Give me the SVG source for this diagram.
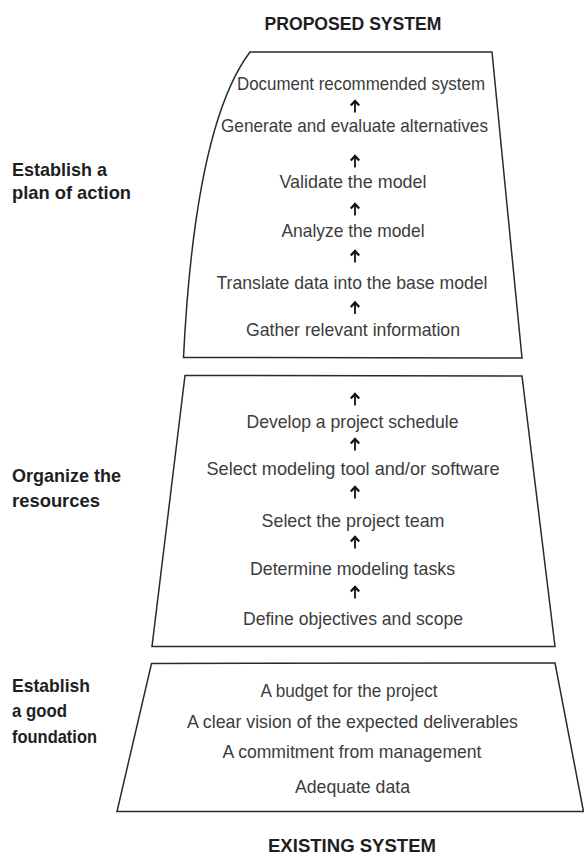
<svg xmlns="http://www.w3.org/2000/svg" width="584" height="857" viewBox="0 0 584 857">
<style>
.box{fill:#fff;stroke:#2a2a2a;stroke-width:1.5;stroke-linejoin:miter}
.t{font-family:"Liberation Sans",Arial,sans-serif;font-size:19px;fill:#3c3c3c;text-anchor:middle}
.h{font-family:"Liberation Sans",Arial,sans-serif;font-size:17.5px;font-weight:bold;fill:#1e1e1e;text-anchor:middle}
.l{font-family:"Liberation Sans",Arial,sans-serif;font-size:19px;font-weight:bold;fill:#1e1e1e}
.arr{fill:none;stroke:#111;stroke-width:1.8;marker-end:url(#ah)}
</style>
<defs>
<marker id="ah" viewBox="0 0 10 10" refX="7.5" refY="5" markerWidth="10" markerHeight="10" markerUnits="userSpaceOnUse" orient="auto">
<path d="M3,0.8 L7.5,5 L3,9.2" fill="none" stroke="#111" stroke-width="2.3" stroke-linejoin="miter"/>
</marker>
</defs>
<rect width="584" height="857" fill="#fff"/>

<text class="h" x="353" y="30" textLength="177" lengthAdjust="spacingAndGlyphs">PROPOSED SYSTEM</text>
<text class="h" x="352" y="852" textLength="168" lengthAdjust="spacingAndGlyphs">EXISTING SYSTEM</text>

<g id="label-plan">
<text class="l" x="12" y="176" textLength="95" lengthAdjust="spacingAndGlyphs">Establish a</text>
<text class="l" x="12" y="199" textLength="119" lengthAdjust="spacingAndGlyphs">plan of action</text>
</g>
<g id="label-organize">
<text class="l" x="12" y="482" textLength="109" lengthAdjust="spacingAndGlyphs">Organize the</text>
<text class="l" x="12" y="507" textLength="88" lengthAdjust="spacingAndGlyphs">resources</text>
</g>
<g id="label-foundation">
<text class="l" x="12" y="692" textLength="78" lengthAdjust="spacingAndGlyphs">Establish</text>
<text class="l" x="12" y="717" textLength="55" lengthAdjust="spacingAndGlyphs">a good</text>
<text class="l" x="12" y="743" textLength="85" lengthAdjust="spacingAndGlyphs">foundation</text>
</g>

<g id="box-plan">
<path class="box" d="M250,52 L492,52 L522,358 L183.5,357.5 Q195,125 250,52 Z"/>
</g>
<g id="box-organize">
<polygon class="box" points="185,375.5 522,376 555,646.5 152,646.5"/>
</g>
<g id="box-foundation">
<polygon class="box" points="151.5,663.5 555,663 583.5,811.5 117,811.5"/>
</g>

<g id="step-document"><text class="t" x="361" y="90" textLength="248" lengthAdjust="spacingAndGlyphs">Document recommended system</text></g>
<g id="step-generate"><text class="t" x="354.5" y="131.5" textLength="267" lengthAdjust="spacingAndGlyphs">Generate and evaluate alternatives</text></g>
<g id="step-validate"><text class="t" x="353" y="188" textLength="147" lengthAdjust="spacingAndGlyphs">Validate the model</text></g>
<g id="step-analyze"><text class="t" x="353" y="236.5" textLength="143" lengthAdjust="spacingAndGlyphs">Analyze the model</text></g>
<g id="step-translate"><text class="t" x="352" y="288.5" textLength="271" lengthAdjust="spacingAndGlyphs">Translate data into the base model</text></g>
<g id="step-gather"><text class="t" x="353" y="335.5" textLength="214" lengthAdjust="spacingAndGlyphs">Gather relevant information</text></g>

<g id="step-schedule"><text class="t" x="352.5" y="428" textLength="212" lengthAdjust="spacingAndGlyphs">Develop a project schedule</text></g>
<g id="step-tool"><text class="t" x="353" y="475" textLength="293" lengthAdjust="spacingAndGlyphs">Select modeling tool and/or software</text></g>
<g id="step-team"><text class="t" x="353" y="526.5" textLength="183" lengthAdjust="spacingAndGlyphs">Select the project team</text></g>
<g id="step-tasks"><text class="t" x="352.5" y="575" textLength="205" lengthAdjust="spacingAndGlyphs">Determine modeling tasks</text></g>
<g id="step-objectives"><text class="t" x="353" y="625" textLength="220" lengthAdjust="spacingAndGlyphs">Define objectives and scope</text></g>

<g id="item-budget"><text class="t" x="349" y="696.5" textLength="177" lengthAdjust="spacingAndGlyphs">A budget for the project</text></g>
<g id="item-vision"><text class="t" x="352.5" y="728" textLength="331" lengthAdjust="spacingAndGlyphs">A clear vision of the expected deliverables</text></g>
<g id="item-commitment"><text class="t" x="352" y="758" textLength="259" lengthAdjust="spacingAndGlyphs">A commitment from management</text></g>
<g id="item-data"><text class="t" x="352.5" y="793" textLength="115" lengthAdjust="spacingAndGlyphs">Adequate data</text></g>

<g id="connectors">
<path class="arr" d="M355,112.5 V101"/>
<path class="arr" d="M355,167.5 V156"/>
<path class="arr" d="M355,215.5 V204"/>
<path class="arr" d="M355,262.5 V251"/>
<path class="arr" d="M355,314 V302.5"/>
<path class="arr" d="M355,405.5 V394"/>
<path class="arr" d="M355,450.5 V439"/>
<path class="arr" d="M355,498.5 V487"/>
<path class="arr" d="M355,548.5 V537"/>
<path class="arr" d="M355,598.5 V587"/>
</g>
</svg>
